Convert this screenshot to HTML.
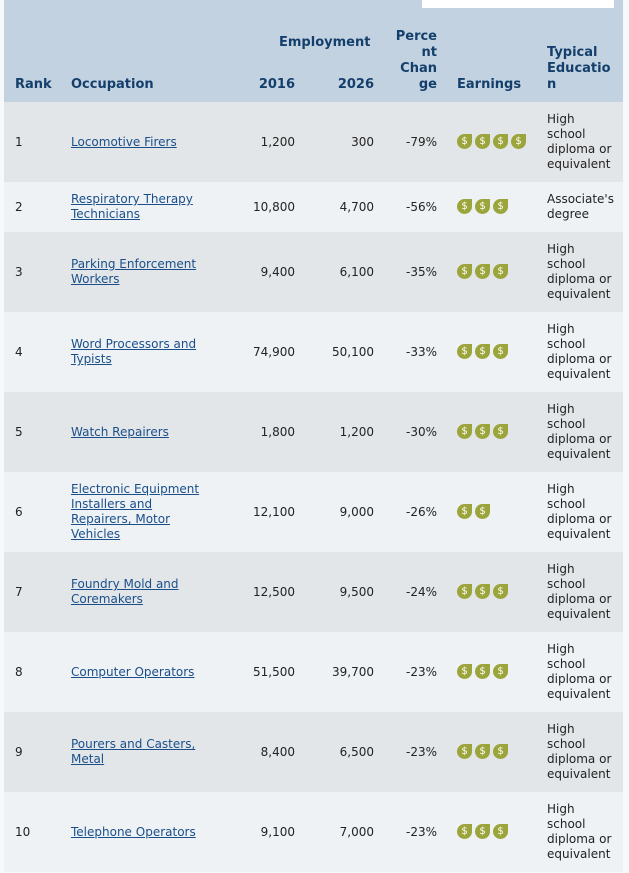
<!DOCTYPE html>
<html><head><meta charset="utf-8"><style>
body{margin:0;width:629px;height:873px;background:#f7f8f9;position:relative;overflow:hidden;font-family:"DejaVu Sans",Verdana,sans-serif;font-size:12px;color:#222}
.a{position:absolute}
.hd{position:absolute;left:4px;top:0;width:619px;height:102px;background:#c2d2e1}
.h{position:absolute;font-weight:bold;color:#143f6b;font-size:13px;line-height:16px}
.row{position:absolute;left:4px;width:619px}
.c{position:absolute;line-height:15px}
a{color:#1a4f8a;text-decoration:underline}
.r{text-align:right}
.ic{display:inline-block;width:15px;height:15px;background:#9ba53c;border-radius:50% 0 50% 50%;color:#fff;font-size:10px;line-height:15px;text-align:center;margin-right:3px;vertical-align:top}
</style></head><body>
<div class="hd"></div>
<div class="a" style="left:422px;top:0;width:192px;height:8px;background:#fff"></div>
<div class="h" style="left:15px;top:77px">Rank</div>
<div class="h" style="left:71px;top:77px">Occupation</div>
<div class="h" style="left:279px;top:35px">Employment</div>
<div class="h r" style="left:240px;top:77px;width:55px">2016</div>
<div class="h r" style="left:320px;top:77px;width:54px">2026</div>
<div class="h r" style="left:390px;top:29px;width:47px">Perce<br>nt<br>Chan<br>ge</div>
<div class="h" style="left:457px;top:77px">Earnings</div>
<div class="h" style="left:547px;top:45px">Typical<br>Educatio<br>n</div>
<div id="rows"></div>
<script>
var d=[
[1,"Locomotive Firers","1,200","300","-79%",4,"High<br>school<br>diploma or<br>equivalent",80],
[2,"Respiratory Therapy<br>Technicians","10,800","4,700","-56%",3,"Associate's<br>degree",50],
[3,"Parking Enforcement<br>Workers","9,400","6,100","-35%",3,0,80],
[4,"Word Processors and<br>Typists","74,900","50,100","-33%",3,0,80],
[5,"Watch Repairers","1,800","1,200","-30%",3,0,80],
[6,"Electronic Equipment<br>Installers and<br>Repairers, Motor<br>Vehicles","12,100","9,000","-26%",2,0,80],
[7,"Foundry Mold and<br>Coremakers","12,500","9,500","-24%",3,0,80],
[8,"Computer Operators","51,500","39,700","-23%",3,0,80],
[9,"Pourers and Casters,<br>Metal","8,400","6,500","-23%",3,0,80],
[10,"Telephone Operators","9,100","7,000","-23%",3,0,80]];
var y=102,h="";
d.forEach(function(r,i){
var H=r[7],m=y+H/2;
var occ=r[1].split("<br>").length;
var ed=r[6]||"High<br>school<br>diploma or<br>equivalent";
var en=ed.split("<br>").length;
var ic="";for(var k=0;k<r[5];k++)ic+='<span class="ic">$</span>';
h+='<div class="row" style="top:'+y+'px;height:'+H+'px;background:'+(i%2?'#eef2f5':'#e3e6e9')+'"></div>';
h+='<div class="c" style="left:15px;top:'+(m-7.5)+'px">'+r[0]+'</div>';
h+='<div class="c" style="left:71px;top:'+(m-occ*7.5)+'px;white-space:nowrap"><a>'+r[1]+'</a></div>';
h+='<div class="c r" style="left:220px;width:75px;top:'+(m-7.5)+'px">'+r[2]+'</div>';
h+='<div class="c r" style="left:300px;width:74px;top:'+(m-7.5)+'px">'+r[3]+'</div>';
h+='<div class="c r" style="left:390px;width:47px;top:'+(m-7.5)+'px">'+r[4]+'</div>';
h+='<div class="c" style="left:457px;top:'+(m-8)+'px;white-space:nowrap">'+ic+'</div>';
h+='<div class="c" style="left:547px;top:'+(m-en*7.5)+'px;white-space:nowrap">'+ed+'</div>';
y+=H;});
document.getElementById("rows").innerHTML=h;
</script>
</body></html>
